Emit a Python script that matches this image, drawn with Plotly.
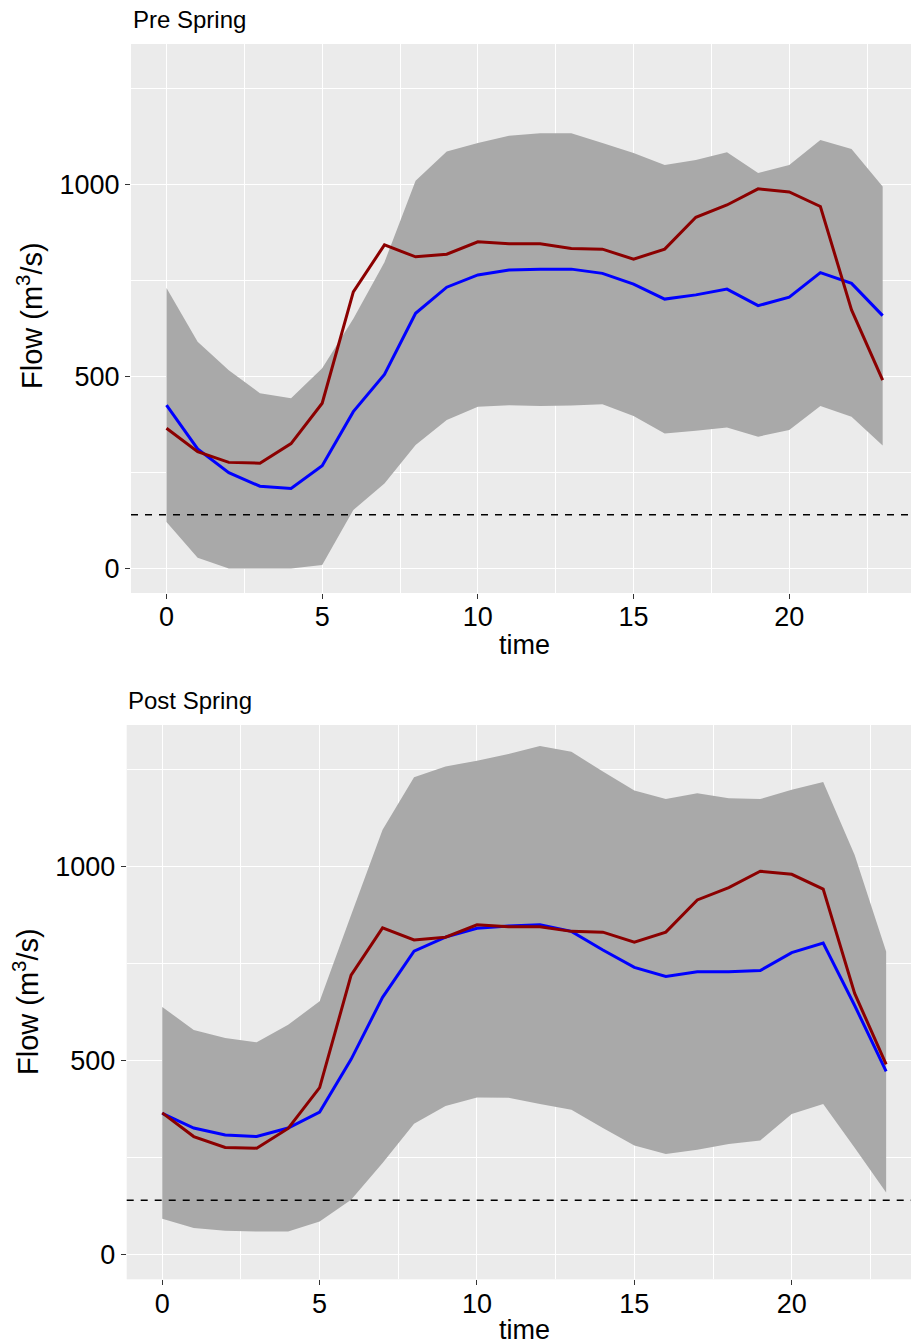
import plotly.graph_objects as go

# Hour of day
hours = list(range(24))

# Observed flow (same reference series in both periods), m3/s
observed = [365, 304, 276, 274, 325, 430, 720, 842, 811, 818, 850, 845,
            845, 833, 831, 805, 831, 914, 946, 988, 980, 942, 673, 490]

# Pre Spring: simulated mean and envelope
pre_mean = [425, 311, 249, 214, 208, 267, 408, 505, 664, 732, 764, 777,
            779, 779, 768, 740, 701, 712, 727, 684, 706, 770, 742, 658]
pre_low = [121, 28, 0, 0, 0, 9, 152, 221, 321, 386, 421, 425,
           423, 424, 427, 397, 351, 358, 367, 343, 360, 423, 395, 320]
pre_high = [730, 590, 516, 456, 443, 521, 650, 797, 1009, 1085, 1107, 1126,
            1133, 1133, 1107, 1081, 1050, 1063, 1083, 1029, 1050, 1115, 1092, 994]

# Post Spring: simulated mean and envelope
post_mean = [364, 326, 308, 304, 326, 367, 503, 663, 782, 818, 841, 847,
             850, 833, 785, 740, 717, 729, 729, 732, 778, 803, 642, 472]
post_low = [92, 68, 61, 59, 59, 85, 141, 236, 337, 383, 405, 404,
            388, 373, 326, 281, 259, 270, 285, 294, 362, 388, 275, 160]
post_high = [638, 579, 558, 547, 592, 653, 875, 1095, 1230, 1258, 1273, 1290,
             1311, 1296, 1245, 1196, 1174, 1189, 1176, 1174, 1198, 1218, 1030, 781]

threshold = 140

W, H = 911, 1344
FONT = "Liberation Sans, Arial, sans-serif"
RIBBON = "#A9A9A9"
PANEL = "#EBEBEB"


def py(px):
    """Pixel row (from top) to paper fraction."""
    return 1 - px / H


def px_x(px):
    return px / W


fig = go.Figure()

panels = [
    dict(suffix="", low=pre_low, high=pre_high, mean=pre_mean),
    dict(suffix="2", low=post_low, high=post_high, mean=post_mean),
]

shapes = []
for p in panels:
    xa, ya = "x" + p["suffix"], "y" + p["suffix"]
    fig.add_trace(go.Scatter(x=hours, y=p["low"], mode="lines",
                             line=dict(width=0, color=RIBBON),
                             xaxis=xa, yaxis=ya, showlegend=False,
                             hoverinfo="skip"))
    fig.add_trace(go.Scatter(x=hours, y=p["high"], mode="lines",
                             line=dict(width=0, color=RIBBON),
                             fill="tonexty", fillcolor=RIBBON,
                             xaxis=xa, yaxis=ya, showlegend=False,
                             hoverinfo="skip"))
    fig.add_trace(go.Scatter(x=hours, y=p["mean"], mode="lines",
                             line=dict(width=3, color="#0000FF"),
                             xaxis=xa, yaxis=ya, showlegend=False))
    fig.add_trace(go.Scatter(x=hours, y=observed, mode="lines",
                             line=dict(width=3, color="#8B0000"),
                             xaxis=xa, yaxis=ya, showlegend=False))
    # horizontal threshold across the whole panel
    shapes.append(dict(type="line", xref=xa + " domain", yref=ya,
                       x0=0, x1=1, y0=threshold, y1=threshold,
                       line=dict(color="black", width=1.5, dash="7px,7px"),
                       layer="above"))

tickfont = dict(family=FONT, size=27, color="#000000")


def xaxis(domain, rng, anchor):
    return dict(domain=domain, range=rng, anchor=anchor,
                tickmode="linear", tick0=0, dtick=5,
                showgrid=True, gridcolor="white", gridwidth=1.2,
                minor=dict(dtick=2.5, tick0=0, showgrid=True,
                           gridcolor="white", gridwidth=0.6),
                zeroline=False, showline=False,
                ticks="outside", ticklen=5, tickwidth=1.1, tickcolor="#333333",
                ticklabelstandoff=-5,
                tickfont=tickfont, fixedrange=True)


def yaxis(domain, anchor):
    return dict(domain=domain, range=[-64, 1365], anchor=anchor,
                tickmode="linear", tick0=0, dtick=500,
                showgrid=True, gridcolor="white", gridwidth=1.2,
                minor=dict(dtick=250, tick0=0, showgrid=True,
                           gridcolor="white", gridwidth=0.6),
                zeroline=False, showline=False,
                ticks="outside", ticklen=5, tickwidth=1.1, tickcolor="#333333",
                tickfont=tickfont, fixedrange=True)


fig.update_layout(
    width=W, height=H,
    margin=dict(l=0, r=0, t=0, b=0),
    paper_bgcolor="white",
    plot_bgcolor=PANEL,
    font=dict(family=FONT, color="#000000"),
    showlegend=False,
    xaxis=xaxis([px_x(131), 1], [-1.14, 23.91], "y"),
    yaxis=yaxis([py(593), py(44)], "x"),
    xaxis2=xaxis([px_x(126.7), 1], [-1.13, 23.79], "y2"),
    yaxis2=yaxis([py(1279.3), py(725)], "x2"),
    shapes=shapes,
)

ann = []
title_font = dict(family=FONT, size=24, color="#000000")
label_font = dict(family=FONT, size=27, color="#000000")
ylabel_font = dict(family=FONT, size=29, color="#000000")

ann.append(dict(text="Pre Spring", x=px_x(131), y=py(20), xref="paper", yref="paper",
                xanchor="left", yanchor="middle", showarrow=False, font=title_font))
ann.append(dict(text="Post Spring", x=px_x(126), y=py(700), xref="paper", yref="paper",
                xanchor="left", yanchor="middle", showarrow=False, font=title_font))
for yc, xc in [(316, 30), (1002, 26)]:
    ann.append(dict(text="Flow (m<sup>3</sup>/s)", x=px_x(xc), y=py(yc),
                    xref="paper", yref="paper", xanchor="center", yanchor="middle",
                    textangle=-90, showarrow=False, font=ylabel_font))
for yc in [645, 1330]:
    ann.append(dict(text="time", x=px_x(524), y=py(yc), xref="paper", yref="paper",
                    xanchor="center", yanchor="middle", showarrow=False, font=label_font))
fig.update_layout(annotations=ann)

fig.write_html("out.html")
